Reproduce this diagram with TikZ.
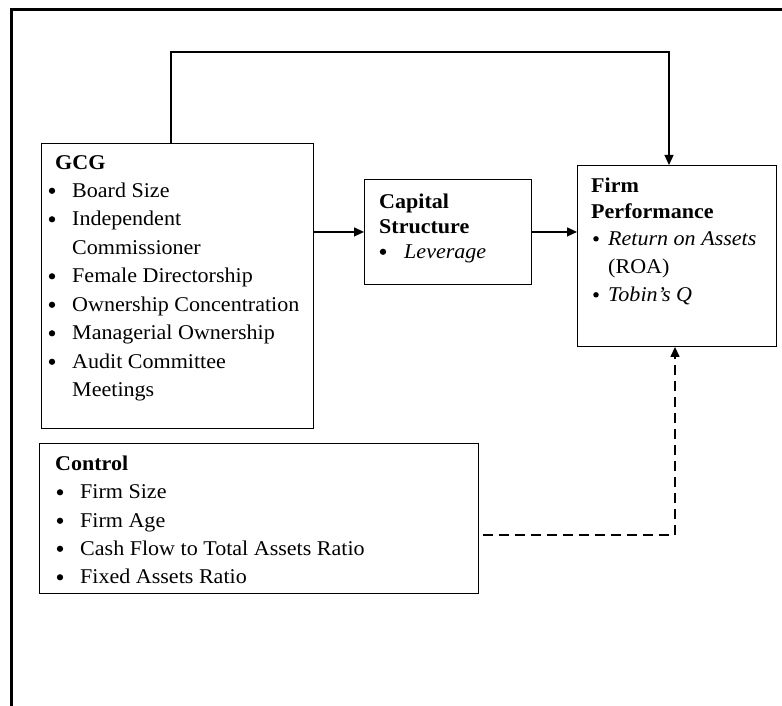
\documentclass[tikz,border=0pt]{standalone}
\usepackage{fontspec}
\setmainfont{Liberation Serif}[FakeStretch=1.05]
\usetikzlibrary{arrows.meta}
\begin{document}
\begin{tikzpicture}[x=1pt,y=-1pt,
  box/.style={draw, line width=0.9pt, inner sep=0pt, anchor=north west, minimum width=#1},
  txt/.style={anchor=base west, inner sep=0pt, font=\fontsize{21}{24}\selectfont},
  ttl/.style={txt, font=\fontsize{21}{24}\selectfont\bfseries},
  bul/.style={circle, fill, inner sep=0pt, minimum size=6.3pt},
  arr/.style={-{Triangle[length=10pt,width=9pt]}, line width=1.3pt},
  darr/.style={arr, dash pattern=on 10pt off 6pt}]
\useasboundingbox (0,0) rectangle (782,706);
\draw[line width=3pt] (11,706) -- (11,10) -- (782,10);

% boxes
\node[box=272pt, minimum height=285pt] (gcg) at (41,143) {};
\node[box=167pt, minimum height=105pt] (cs) at (364,179) {};
\node[box=199pt, minimum height=181pt] (fp) at (577,165) {};
\node[box=439pt, minimum height=150pt] (ctrl) at (39,443) {};

% GCG text
\node[ttl] (g0) at (55,170) {GCG};
\node[bul] (gb1) at (52,190.8) {};   \node[txt] (g1) at (72,197) {Board Size};
\node[bul] (gb2) at (52,219.3) {}; \node[txt] (g2) at (72,225.5) {Independent};
\node[txt] (g3) at (72,254) {Commissioner};
\node[bul] (gb4) at (52,276.3) {}; \node[txt] (g4) at (72,282.5) {Female Directorship};
\node[bul] (gb5) at (52,304.8) {};   \node[txt] (g5) at (72,311) {Ownership Concentration};
\node[bul] (gb6) at (52,333.3) {}; \node[txt] (g6) at (72,339.5) {Managerial Ownership};
\node[bul] (gb7) at (52,361.8) {};   \node[txt] (g7) at (72,368) {Audit Committee};
\node[txt] (g8) at (72,396.5) {Meetings};

% Capital structure text
\node[ttl] (c0) at (379,208) {Capital};
\node[ttl] (c1) at (379,233) {Structure};
\node[bul] (cb2) at (383,251.8) {}; \node[txt] (c2) at (404,258) {\itshape Leverage};

% Firm performance text
\node[ttl] (f0) at (591,193) {Firm};
\node[ttl] (f1) at (591,218) {Performance};
\node[bul, minimum size=5.5pt] (fb2) at (596,238.8) {}; \node[txt] (f2) at (608,245) {\itshape Return on Assets};
\node[txt] (f3) at (608,273) {(ROA)};
\node[bul, minimum size=5.5pt] (fb4) at (596,294.8) {}; \node[txt] (f4) at (608,301) {\itshape Tobin’s Q};

% Control text
\node[ttl] (k0) at (55,470.5) {Control};
\node[bul] (kb1) at (60,492.3) {}; \node[txt] (k1) at (80,498.5) {Firm Size};
\node[bul] (kb2) at (60,520.8) {};   \node[txt] (k2) at (80,527) {Firm Age};
\node[bul] (kb3) at (60,548.8) {};   \node[txt] (k3) at (80,555) {Cash Flow to Total Assets Ratio};
\node[bul] (kb4) at (60,577.3) {}; \node[txt] (k4) at (80,583.5) {Fixed Assets Ratio};

% connectors
\coordinate (topbend) at (669,52);
\draw[arr] ([xshift=130pt]gcg.north west) |- (topbend) -- (topbend |- fp.north);
\draw[arr] (gcg.east |- cs.west) -- (cs.west);
\draw[arr] (cs.east) -- (cs.east -| fp.west);
\coordinate (dstart) at (483,535);
\coordinate (dcorner) at (675,535);
\draw[darr] (dstart) -- (dcorner) -- (dcorner |- fp.south);
\end{tikzpicture}
\end{document}
